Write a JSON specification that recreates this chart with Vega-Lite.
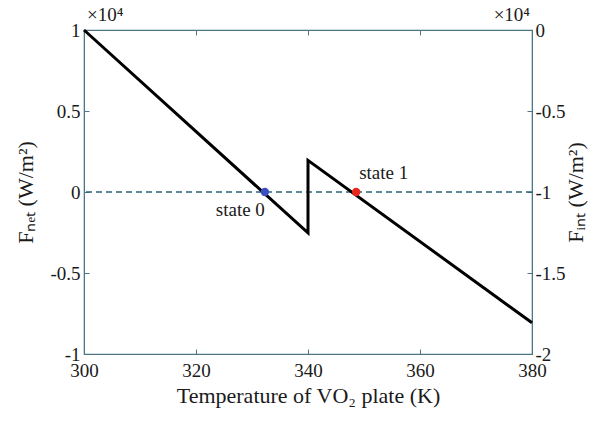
{
  "$schema": "https://vega.github.io/schema/vega-lite/v6.json",
  "width": 448,
  "height": 324,
  "autosize": {"type": "none"},
  "padding": {"left": 84, "top": 30, "right": 80, "bottom": 67},
  "background": "white",
  "config": {
    "font": "Liberation Serif",
    "view": {"stroke": "#4d7585", "strokeWidth": 1.2},
    "axis": {
      "grid": false,
      "domainColor": "#4d7585",
      "tickColor": "#4d7585",
      "tickSize": -5,
      "labelFlush": false,
      "labelFont": "Liberation Serif",
      "labelFontSize": 19,
      "labelColor": "#1a1a1a",
      "titleFont": "Liberation Serif",
      "titleFontSize": 22,
      "titleFontWeight": "normal",
      "titleColor": "#1a1a1a"
    }
  },
  "datasets": {
    "curve": [
      {"i": 0, "T": 300, "F": 10000},
      {"i": 1, "T": 340, "F": -2530},
      {"i": 2, "T": 340, "F": 1950},
      {"i": 3, "T": 380, "F": -8070}
    ],
    "states": [
      {"T": 332.3, "F": 0, "state": "state 0"},
      {"T": 348.6, "F": 0, "state": "state 1"}
    ]
  },
  "layer": [
    {
      "layer": [
        {
          "data": {"values": [{"F": 0}]},
          "mark": {"type": "rule", "color": "#2a6478", "strokeWidth": 1.3, "strokeDash": [6, 4]},
          "encoding": {
            "y": {"field": "F", "type": "quantitative", "scale": {"domain": [-10000, 10000]}}
          }
        },
        {
          "data": {"name": "curve"},
          "mark": {"type": "line", "color": "#000000", "strokeWidth": 3},
          "encoding": {
            "x": {"field": "T", "type": "quantitative", "scale": {"domain": [300, 380], "nice": false, "zero": false},
              "axis": {"orient": "bottom", "values": [300, 320, 340, 360, 380], "title": "Temperature of VO₂ plate (K)", "labelFont": "Liberation Serif", "labelFontSize": 19, "labelFlush": false, "labelPadding": 12, "titlePadding": 5}},
            "y": {"field": "F", "type": "quantitative", "scale": {"domain": [-10000, 10000], "nice": false},
              "axis": {"orient": "left", "values": [-10000, -5000, 0, 5000, 10000], "labelExpr": "datum.value/10000 + ''", "labelFont": "Liberation Serif", "labelFontSize": 19, "labelFlush": false, "title": "Fₙₑₜ (W/m²)", "labelPadding": 9, "titlePadding": 12}},
            "order": {"field": "i", "type": "quantitative"}
          }
        },
        {
          "data": {"name": "states"},
          "mark": {"type": "point", "filled": true, "size": 70, "opacity": 1},
          "encoding": {
            "x": {"field": "T", "type": "quantitative"},
            "y": {"field": "F", "type": "quantitative"},
            "color": {"field": "state", "type": "nominal", "scale": {"domain": ["state 0", "state 1"], "range": ["#3b4fc4", "#e8261c"]}, "legend": null}
          }
        },
        {
          "data": {"values": [{"T": 332.3, "F": 0, "label": "state 0"}]},
          "mark": {"type": "text", "fontSize": 19, "font": "Liberation Serif", "color": "#1a1a1a", "align": "right", "dx": 0, "dy": 18},
          "encoding": {
            "x": {"field": "T", "type": "quantitative"},
            "y": {"field": "F", "type": "quantitative"},
            "text": {"field": "label"}
          }
        },
        {
          "data": {"values": [{"T": 348.6, "F": 0, "label": "state 1"}]},
          "mark": {"type": "text", "fontSize": 19, "font": "Liberation Serif", "color": "#1a1a1a", "align": "left", "dx": 3, "dy": -19},
          "encoding": {
            "x": {"field": "T", "type": "quantitative"},
            "y": {"field": "F", "type": "quantitative"},
            "text": {"field": "label"}
          }
        },
        {
          "data": {"values": [{"T": 300, "F": 10000, "label": "×10⁴"}]},
          "mark": {"type": "text", "fontSize": 19, "font": "Liberation Serif", "color": "#1a1a1a", "align": "left", "dx": 3, "dy": -15},
          "encoding": {
            "x": {"field": "T", "type": "quantitative"},
            "y": {"field": "F", "type": "quantitative"},
            "text": {"field": "label"}
          }
        },
        {
          "data": {"values": [{"T": 380, "F": 10000, "label": "×10⁴"}]},
          "mark": {"type": "text", "fontSize": 19, "font": "Liberation Serif", "color": "#1a1a1a", "align": "right", "dx": -2, "dy": -15},
          "encoding": {
            "x": {"field": "T", "type": "quantitative"},
            "y": {"field": "F", "type": "quantitative"},
            "text": {"field": "label"}
          }
        }
      ]
    },
    {
      "data": {"values": [{"T": 300, "R": -20000}, {"T": 380, "R": 0}]},
      "mark": {"type": "point", "opacity": 0},
      "encoding": {
        "x": {"field": "T", "type": "quantitative", "scale": {"domain": [300, 380], "nice": false, "zero": false},
          "axis": {"orient": "top", "values": [300, 320, 340, 360, 380], "labels": false, "title": null, "domain": false}},
        "y": {"field": "R", "type": "quantitative", "scale": {"domain": [-20000, 0], "nice": false},
          "axis": {"orient": "right", "values": [-20000, -15000, -10000, -5000, 0], "labelExpr": "datum.value/10000 + ''", "labelFont": "Liberation Serif", "labelFontSize": 19, "labelFlush": false, "title": "Fᵢₙₜ (W/m²)", "titleAngle": 270, "labelPadding": 8, "titlePadding": 22}}
      }
    }
  ],
  "resolve": {"scale": {"y": "independent"}, "axis": {"x": "independent", "y": "independent"}}
}
